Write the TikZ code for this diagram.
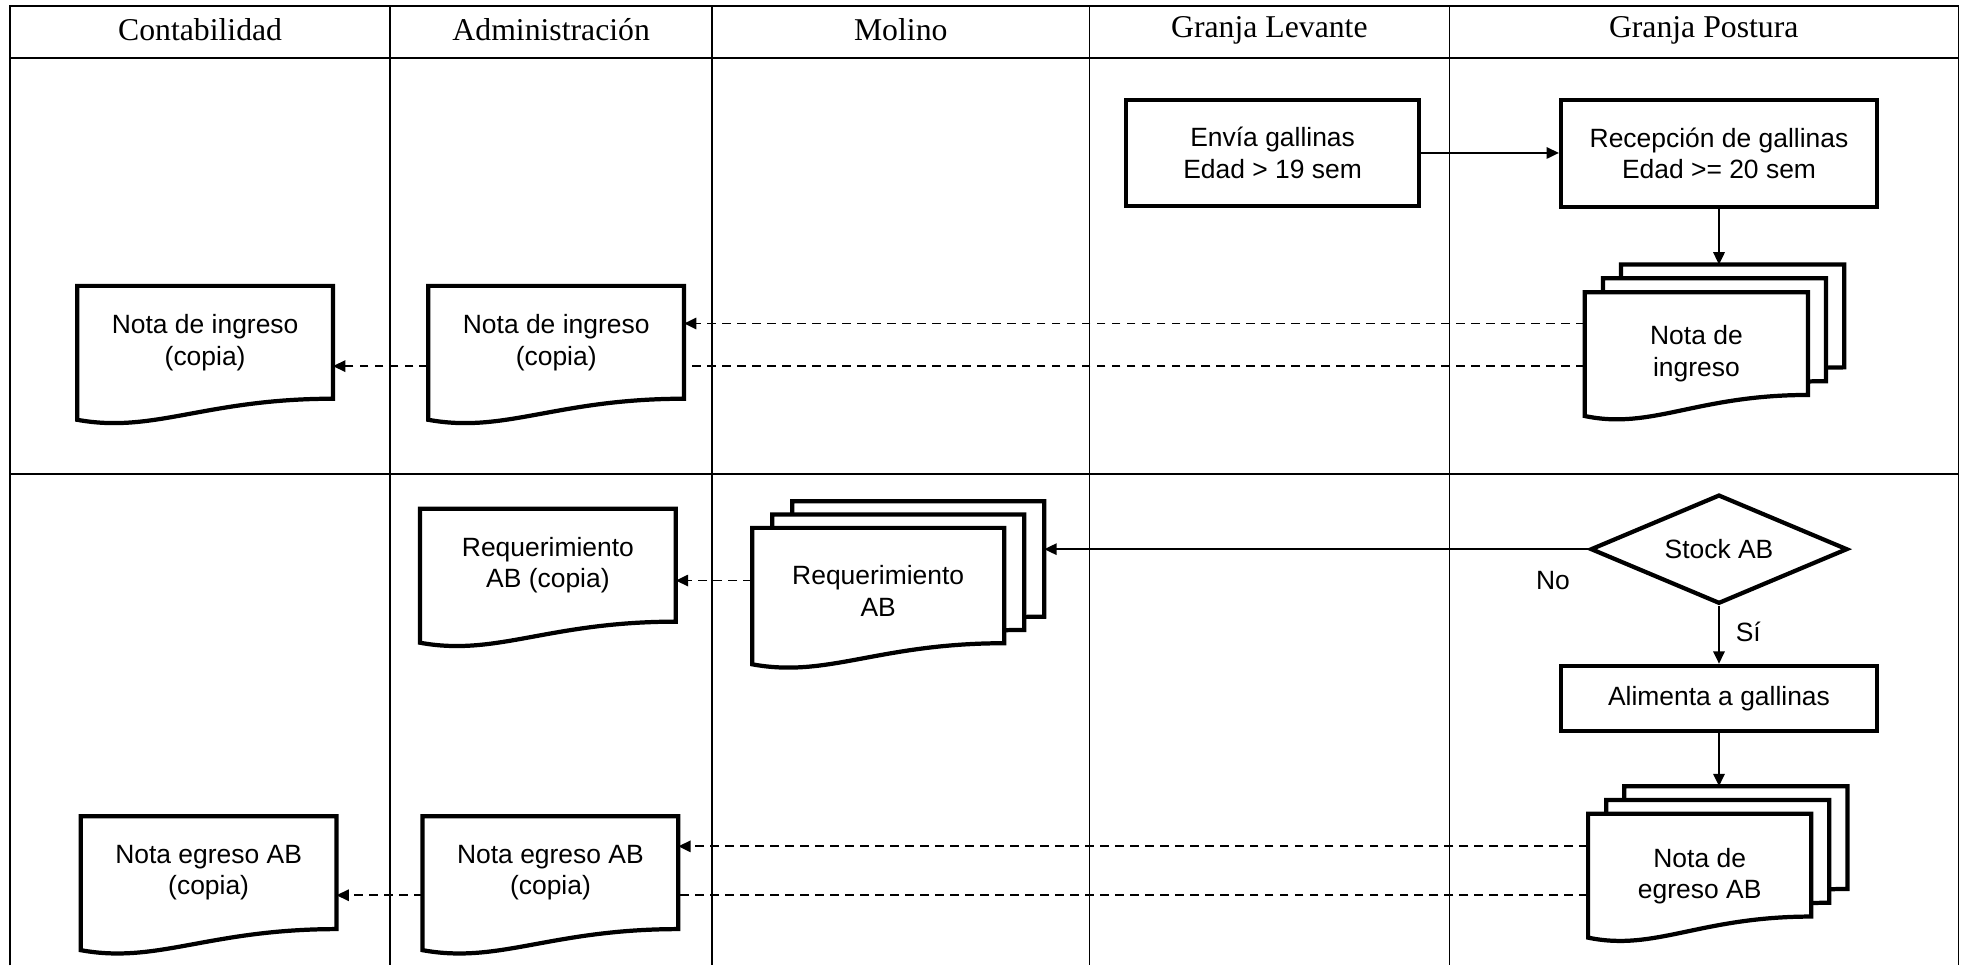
\documentclass[tikz,border=0pt]{standalone}
\usepackage{fontspec}
\setmainfont{Liberation Sans}
\newfontfamily\lanefont{Liberation Serif}
\usetikzlibrary{arrows.meta, positioning, calc, shapes.geometric, backgrounds}

% outline of a document symbol (flat top, wavy bottom)
\newcommand{\docoutline}[1]{%
  \draw[docline] (#1.north west) -- (#1.north east) -- (#1.south east)
    .. controls ($(#1.south east)!0.5!(#1.south west)$) and ($(#1.south east)!0.7!(#1.south west)+(0,-0.7)$)
    .. ($(#1.south west)+(0,-0.42)$) -- cycle;}

\begin{document}
\begin{tikzpicture}[
  lane/.style={line width=1pt},
  lanetitle/.style={font=\lanefont\fontsize{18}{22}\selectfont},
  txt/.style={font=\fontsize{15}{18}\selectfont, align=center},
  box/.style={txt, draw, line width=2.4pt, inner sep=0pt},
  doc/.style={txt, inner sep=0pt, outer sep=0pt},
  copydoc/.style={doc, minimum width=5.1cm, minimum height=2.25cm},
  stackdoc/.style={doc, minimum width=4.45cm, minimum height=2.05cm},
  docline/.style={line width=2.4pt, fill=white, line join=miter},
  decision/.style={txt, draw, diamond, aspect=2.36, line width=2.4pt, inner sep=0pt},
  flow/.style={line width=1pt, -{Triangle[length=7pt,width=6.5pt]}},
  copyflow/.style={flow, dash pattern=on 5pt off 3.5pt}
]
  \useasboundingbox (0,0) rectangle (39.2,-19.25);

  % Lanes
  \draw[lane] (0.2,-19.25) -- (0.2,-0.125) -- (39.05,-0.125) -- (39.05,-19.25);
  \draw[lane] (0.2,-1.15) -- (39.05,-1.15);
  \draw[lane] (0.2,-9.45) -- (39.05,-9.45);
  \draw[lane] (7.775,-0.125) -- (7.775,-19.25);
  \draw[lane] (14.2,-0.125) -- (14.2,-19.25);
  \draw[lane] (21.725,-0.125) -- (21.725,-19.25);
  \draw[lane] (28.9,-0.125) -- (28.9,-19.25);

  \node[lanetitle] (hcont) at (3.99,-0.6) {Contabilidad};
  \node[lanetitle] (hadm) at (10.99,-0.6) {Administración};
  \node[lanetitle] (hmol) at (17.96,-0.6) {Molino};
  \node[lanetitle] (hlev) at (25.31,-0.6) {Granja Levante};
  \node[lanetitle] (hpos) at (33.97,-0.6) {Granja Postura};

  % Ingreso de gallinas
  \node[box, minimum width=5.85cm, minimum height=2.1cm] (envia) at (25.375,-3.05) {Envía gallinas\\Edad > 19 sem};
  \node[box, minimum width=6.3cm, minimum height=2.125cm] (recep) at (34.275,-3.06) {Recepción de gallinas\\Edad >= 20 sem};

  \node[stackdoc] (ningreso) at (33.825,-6.85) {};
  \node[stackdoc] (ningresoB) at ($(ningreso)+(0.36,0.275)$) {};
  \node[stackdoc] (ningresoC) at ($(ningreso)+(0.72,0.55)$) {};
  \node[txt] (ningresotxt) at ($(ningreso)+(0,-0.2)$) {Nota de\\ingreso};

  \node[copydoc] (ingadm) at (11.09,-6.825) {Nota de ingreso\\(copia)};
  \node[copydoc] (ingcont) at (4.09,-6.825) {Nota de ingreso\\(copia)};

  % Alimento balanceado
  \node[decision, minimum width=5.125cm, minimum height=2.175cm] (stock) at (34.275,-10.95) {Stock AB};
  \node[box, minimum width=6.3cm, minimum height=1.3cm] (alimenta) at (34.275,-13.925) {Alimenta a gallinas};

  \node[stackdoc] (negreso) at (33.89,-17.25) {};
  \node[stackdoc] (negresoB) at ($(negreso)+(0.36,0.275)$) {};
  \node[stackdoc] (negresoC) at ($(negreso)+(0.72,0.55)$) {};
  \node[txt] (negresotxt) at ($(negreso)+(0,-0.22)$) {Nota de\\egreso AB};

  \node[doc, minimum width=5.025cm, minimum height=2.3cm] (req) at (17.51,-11.675) {};
  \node[doc, minimum width=5.025cm, minimum height=2.3cm] (reqB) at ($(req)+(0.4,0.265)$) {};
  \node[doc, minimum width=5.025cm, minimum height=2.3cm] (reqC) at ($(req)+(0.8,0.53)$) {};
  \node[txt] (reqtxt) at ($(req)+(0,-0.1)$) {Requerimiento\\AB};

  \node[copydoc] (reqadm) at (10.925,-11.27) {Requerimiento\\AB (copia)};
  \node[copydoc] (egradm) at (10.975,-17.4) {Nota egreso AB\\(copia)};
  \node[copydoc] (egrcont) at (4.16,-17.4) {Nota egreso AB\\(copia)};

  \begin{scope}[on background layer]
    \docoutline{ningresoC} \docoutline{ningresoB} \docoutline{ningreso}
    \docoutline{negresoC} \docoutline{negresoB} \docoutline{negreso}
    \docoutline{reqC} \docoutline{reqB} \docoutline{req}
    \docoutline{ingadm} \docoutline{ingcont}
    \docoutline{reqadm} \docoutline{egradm} \docoutline{egrcont}
  \end{scope}

  % Connectors
  \draw[flow] (envia.east) -- (envia.east -| recep.west);
  \draw[flow] (recep.south) -- (recep.south |- ningresoC.north);
  \draw[copyflow] ($(ningreso.west)+(0,0.4)$) -- ($(ingadm.east |- ningreso.west)+(0,0.4)$);
  \draw[copyflow, -] ($(ningreso.west)+(0,-0.45)$) -- ($(ingadm.east |- ningreso.west)+(0,-0.45)$);
  \draw[copyflow] ($(ingadm.west |- ningreso.west)+(0,-0.45)$) -- ($(ingcont.east |- ningreso.west)+(0,-0.45)$);

  \draw[flow] (stock.west) -- node[pos=0.065, below=3mm, txt] {No} (stock.west -| reqC.east);
  \draw[flow] (stock.south) -- node[pos=0.45, right=2mm, txt] {Sí} (alimenta.north);
  \draw[flow] (alimenta.south) -- (alimenta.south |- negresoC.north);
  \draw[copyflow] ($(req.west)+(0,0.1)$) -- ($(reqadm.east |- req.west)+(0,0.1)$);

  \draw[copyflow] ($(negreso.west)+(0,0.375)$) -- ($(egradm.east |- negreso.west)+(0,0.375)$);
  \draw[copyflow, -] ($(negreso.west)+(0,-0.6)$) -- ($(egradm.east |- negreso.west)+(0,-0.6)$);
  \draw[copyflow] ($(egradm.west |- negreso.west)+(0,-0.6)$) -- ($(egrcont.east |- negreso.west)+(0,-0.6)$);
\end{tikzpicture}
\end{document}
